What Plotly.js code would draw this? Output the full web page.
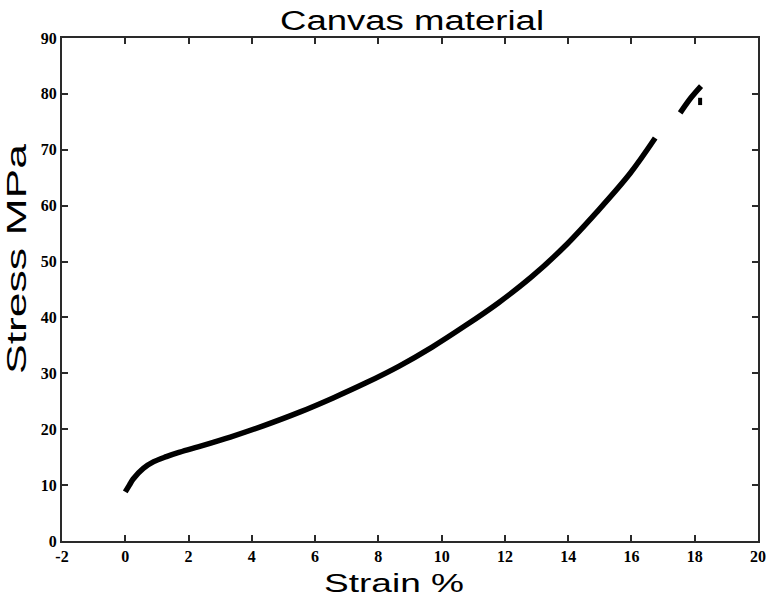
<!DOCTYPE html>
<html>
<head>
<meta charset="utf-8">
<script src="https://cdn.plot.ly/plotly-3.0.1.min.js"></script>
<style>html,body{margin:0;padding:0;background:#fff;}#chart{width:768px;height:596px;}</style>
</head>
<body>
<div id="chart"></div>
<script>
// Main stress-strain curve
const strainMain = [0, 0.13, 0.25, 0.57, 0.9, 1.3, 1.67, 2.21, 3.32, 4.36, 5.53, 6.57, 7.61, 8.66, 9.70, 10.74, 11.79, 12.83, 13.87, 14.91, 15.96, 16.75];
const stressMain = [8.8, 10.0, 11.1, 13.0, 14.2, 15.1, 15.8, 16.7, 18.6, 20.6, 23.1, 25.6, 28.3, 31.3, 34.7, 38.5, 42.6, 47.2, 52.6, 58.9, 65.8, 72.1];
// Short segment near failure
const strainEnd = [17.54, 17.88, 18.2];
const stressEnd = [76.6, 79.3, 81.4];
// Small isolated mark
const strainDot = [18.17, 18.17];
const stressDot = [78.0, 79.3];

const xTicks = [-2, 0, 2, 4, 6, 8, 10, 12, 14, 16, 18, 20];
const yTicks = [0, 10, 20, 30, 40, 50, 60, 70, 80, 90];

const traces = [
  {x: strainMain, y: stressMain, mode: 'lines', line: {color: '#000', width: 5.5, shape: 'spline', smoothing: 1}, hoverinfo: 'none'},
  {x: strainEnd, y: stressEnd, mode: 'lines', line: {color: '#000', width: 5.5, shape: 'spline'}, hoverinfo: 'none'},
  {x: strainDot, y: stressDot, mode: 'lines', line: {color: '#000', width: 4}, hoverinfo: 'none'}
];

const tickFont = {family: '"Liberation Serif", "Times New Roman", serif', size: 16, color: '#000', weight: 'bold'};
const sans = 'Arial, "Liberation Sans", sans-serif';

const layout = {
  width: 768, height: 596,
  margin: {l: 62, r: 10, t: 38, b: 55},
  paper_bgcolor: '#fff', plot_bgcolor: '#fff',
  showlegend: false,
  title: {text: 'Canvas material', font: {family: sans, size: 27, color: '#000'}, x: 0.536, xanchor: 'center', y: 0.97, yanchor: 'middle'},
  xaxis: {
    range: [-2, 20], tickvals: xTicks, ticktext: xTicks.map(String),
    ticks: 'inside', ticklen: 6, tickwidth: 2, tickcolor: '#2a2a2a',
    showline: true, linecolor: '#2a2a2a', linewidth: 2, mirror: 'ticks',
    showgrid: false, zeroline: false, tickfont: tickFont,
    title: {text: 'Strain %', font: {family: sans, size: 25, color: '#000'}, standoff: 4}
  },
  yaxis: {
    range: [0, 90], tickvals: yTicks, ticktext: yTicks.map(String),
    ticks: 'inside', ticklen: 6, tickwidth: 2, tickcolor: '#2a2a2a',
    showline: true, linecolor: '#2a2a2a', linewidth: 2, mirror: 'ticks',
    showgrid: false, zeroline: false, tickfont: tickFont,
    title: {text: 'Stress MPa', font: {family: sans, size: 27, color: '#000'}, standoff: 8}
  }
};

Plotly.newPlot('chart', traces, layout, {staticPlot: true}).then(function (gd) {
  // The reference's titles are horizontally stretched; stretch the real text to match.
  function fit(sel, len, x, y, rot) {
    const t = gd.querySelector(sel);
    if (!t) return;
    t.removeAttribute('dy');
    t.querySelectorAll('tspan').forEach(function (s) { s.removeAttribute('dy'); });
    t.setAttribute('text-anchor', 'middle');
    t.setAttribute('x', x);
    t.setAttribute('y', y);
    t.setAttribute('textLength', len);
    t.setAttribute('lengthAdjust', 'spacingAndGlyphs');
    if (rot) t.setAttribute('transform', 'rotate(-90,' + x + ',' + y + ')');
    else t.removeAttribute('transform');
  }
  fit('.gtitle', 264, 412, 30, false);
  fit('.xtitle', 140, 394, 589, false);
  fit('.ytitle', 230, 26, 259, true);
});
</script>
</body>
</html>
